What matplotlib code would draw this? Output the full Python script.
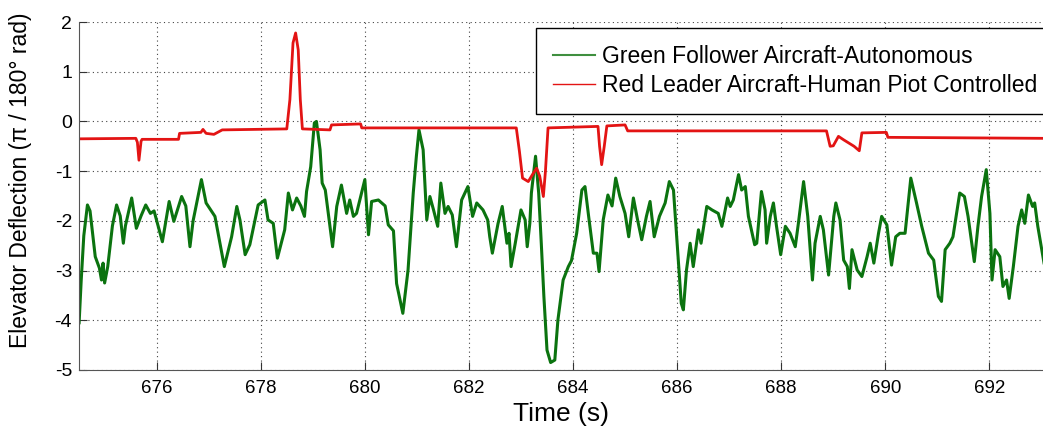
import matplotlib
matplotlib.use('Agg')
import matplotlib.pyplot as plt

# green follower (autonomous) elevator deflection
green_t = [674.51, 674.55, 674.60, 674.67, 674.72, 674.82, 674.90, 674.94, 674.97, 675.00,
           675.06, 675.15, 675.23, 675.30, 675.36, 675.40, 675.52, 675.61, 675.70, 675.79,
           675.88, 675.95, 676.11, 676.24, 676.33, 676.48, 676.56, 676.64, 676.70, 676.86,
           676.95, 677.12, 677.30, 677.44, 677.54, 677.60, 677.70, 677.79, 677.95, 678.08,
           678.14, 678.24, 678.32, 678.46, 678.53, 678.61, 678.69, 678.77, 678.84, 678.88,
           678.96, 679.03, 679.07, 679.14, 679.18, 679.24, 679.38, 679.46, 679.55, 679.65,
           679.71, 679.78, 679.84, 680.00, 680.07, 680.13, 680.26, 680.39, 680.45, 680.55,
           680.61, 680.73, 680.83, 680.93, 680.99, 681.04, 681.12, 681.19, 681.25, 681.32,
           681.40, 681.46, 681.54, 681.60, 681.68, 681.76, 681.86, 681.98, 682.07, 682.15,
           682.27, 682.36, 682.40, 682.45, 682.56, 682.64, 682.73, 682.77, 682.81, 682.89,
           683.00, 683.08, 683.12, 683.17, 683.20, 683.28, 683.34, 683.39, 683.44, 683.50,
           683.57, 683.65, 683.71, 683.81, 683.91, 683.97, 684.07, 684.17, 684.23, 684.30,
           684.39, 684.46, 684.50, 684.58, 684.67, 684.75, 684.82, 684.90, 685.00, 685.07,
           685.16, 685.24, 685.32, 685.41, 685.48, 685.56, 685.66, 685.77, 685.85, 685.93,
           686.00, 686.08, 686.12, 686.18, 686.25, 686.31, 686.41, 686.46, 686.57, 686.67,
           686.79, 686.86, 686.97, 687.02, 687.08, 687.18, 687.24, 687.31, 687.37, 687.49,
           687.53, 687.62, 687.69, 687.72, 687.79, 687.85, 687.91, 687.99, 688.08, 688.17,
           688.27, 688.33, 688.43, 688.51, 688.60, 688.65, 688.75, 688.81, 688.91, 689.01,
           689.05, 689.13, 689.20, 689.27, 689.31, 689.36, 689.46, 689.55, 689.65, 689.71,
           689.78, 689.87, 689.93, 690.03, 690.12, 690.20, 690.28, 690.38, 690.49, 690.60,
           690.70, 690.83, 690.93, 691.02, 691.08, 691.15, 691.24, 691.30, 691.43, 691.52,
           691.59, 691.71, 691.78, 691.85, 691.94, 692.01, 692.05, 692.11, 692.20, 692.26,
           692.33, 692.38, 692.46, 692.55, 692.62, 692.68, 692.75, 692.83, 692.87, 692.93,
           693.05]
green_v = [-4.05, -3.20, -2.30, -1.68, -1.80, -2.72, -2.95, -3.19, -2.85, -3.25,
           -2.92, -2.10, -1.68, -1.90, -2.45, -2.10, -1.54, -2.15, -1.90, -1.68,
           -1.85, -1.80, -2.42, -1.61, -2.01, -1.51, -1.70, -2.52, -2.00, -1.17,
           -1.64, -1.91, -2.92, -2.32, -1.71, -1.98, -2.68, -2.48, -1.68, -1.58,
           -1.98, -2.05, -2.75, -2.18, -1.44, -1.78, -1.54, -1.70, -1.91, -1.41,
           -0.91, -0.03, 0.00, -0.57, -1.24, -1.38, -2.52, -1.71, -1.28, -1.85,
           -1.58, -1.91, -1.85, -1.17, -2.28, -1.61, -1.58, -1.70, -2.08, -2.20,
           -3.26, -3.86, -2.99, -1.44, -0.70, -0.17, -0.57, -1.98, -1.51, -1.78,
           -2.11, -1.24, -1.85, -1.71, -1.88, -2.52, -1.58, -1.31, -1.91, -1.64,
           -1.78, -1.98, -2.32, -2.65, -2.05, -1.71, -2.45, -2.25, -2.92, -2.45,
           -1.78, -1.98, -2.52, -2.05, -1.44, -0.70, -1.44, -2.45, -3.52, -4.60,
           -4.85, -4.80, -3.99, -3.19, -2.92, -2.80, -2.25, -1.38, -1.31, -1.91,
           -2.65, -2.65, -3.02, -1.98, -1.48, -1.70, -1.14, -1.51, -1.85, -2.32,
           -1.54, -1.98, -2.38, -1.91, -1.61, -2.32, -1.91, -1.64, -1.21, -1.38,
           -2.45, -3.66, -3.79, -2.99, -2.45, -2.92, -2.18, -2.45, -1.71, -1.78,
           -1.85, -2.11, -1.54, -1.71, -1.58, -1.07, -1.38, -1.31, -1.91, -2.48,
           -2.45, -1.41, -1.78, -2.45, -1.91, -1.64, -2.11, -2.68, -2.11, -2.25,
           -2.52, -2.05, -1.21, -1.91, -3.19, -2.45, -1.91, -2.18, -3.09, -1.91,
           -1.64, -1.98, -2.79, -2.92, -3.36, -2.58, -2.99, -3.12, -2.72, -2.45,
           -2.85, -2.25, -1.91, -2.08, -2.89, -2.32, -2.25, -2.25, -1.14, -1.64,
           -2.11, -2.65, -2.79, -3.52, -3.62, -2.58, -2.45, -2.32, -1.44, -1.51,
           -1.91, -2.82, -2.11, -1.51, -0.97, -1.85, -3.19, -2.58, -2.72, -3.32,
           -3.19, -3.56, -2.92, -2.11, -1.78, -2.05, -1.48, -1.71, -1.64, -2.11,
           -2.85]

# red leader (human pilot) elevator deflection
red_t = [674.50, 675.60, 675.63, 675.66, 675.70, 675.72, 676.42, 676.44, 676.85, 676.89,
         676.95, 677.10, 677.26, 678.50, 678.56, 678.62, 678.67, 678.72, 678.76, 678.80,
         679.33, 679.36, 679.92, 679.94, 682.91, 682.97, 683.03, 683.14, 683.22, 683.30,
         683.36, 683.43, 683.47, 683.52, 684.48, 684.51, 684.55, 684.60, 684.65, 685.00,
         685.05, 688.87, 688.94, 689.00, 689.10, 689.20, 689.40, 689.50, 689.55, 690.02,
         690.05, 693.05]
red_v = [-0.35, -0.34, -0.42, -0.78, -0.40, -0.36, -0.36, -0.24, -0.22, -0.16,
         -0.24, -0.26, -0.17, -0.15, 0.44, 1.58, 1.78, 1.44, 0.44, -0.15,
         -0.17, -0.07, -0.05, -0.13, -0.13, -0.60, -1.14, -1.21, -1.07, -0.94,
         -1.10, -1.51, -1.00, -0.13, -0.10, -0.50, -0.87, -0.50, -0.09, -0.07,
         -0.19, -0.19, -0.50, -0.49, -0.30, -0.37, -0.50, -0.59, -0.23, -0.22,
         -0.32, -0.34]

x_ticks = [676, 678, 680, 682, 684, 686, 688, 690, 692]
y_ticks = [-5, -4, -3, -2, -1, 0, 1, 2]

plt.rcParams['font.family'] = ['Liberation Sans', 'DejaVu Sans']
plt.rcParams['axes.unicode_minus'] = False

fig = plt.figure(figsize=(10.43, 4.36), dpi=100)
ax = fig.add_axes([0.0757, 0.1514, 0.9243, 0.7981])

ax.plot(green_t, green_v, color='#0b730f', lw=2.2, label='Green Follower Aircraft-Autonomous')
ax.plot(red_t, red_v, color='#e31414', lw=2.0, label='Red Leader Aircraft-Human Piot Controlled')

ax.set_xlim(674.507, 693.03)
ax.set_ylim(-5, 2)
ax.set_xticks(x_ticks)
ax.set_yticks(y_ticks)
ax.grid(True, linestyle=(0, (1, 3)), color='#444444', lw=0.8)

for s in ['top', 'right']:
    ax.spines[s].set_visible(False)
ax.spines['left'].set_color('#555555')
ax.spines['bottom'].set_color('#555555')
ax.tick_params(direction='in', length=6, color='#333333')
ax.tick_params(axis='y', labelsize=14, pad=5)
ax.tick_params(axis='x', labelsize=13.5, pad=7)

ax.set_xlabel('Time (s)', fontsize=19, labelpad=4)
ax.set_ylabel('Elevator Deflection (\u03c0 / 180\u00b0 rad)', fontsize=16.5)
ax.yaxis.set_label_coords(-0.049, 0.546)

# legend box runs past the right edge, as in the original figure
leg = ax.legend(loc='upper left', bbox_to_anchor=(0.474, 0.983), fontsize=16.5,
                fancybox=False, framealpha=1, edgecolor='black', handlelength=1.85,
                handletextpad=0.3, borderpad=0.75, labelspacing=0.25, borderaxespad=0)
leg.get_frame().set_linewidth(1.0)
leg.get_lines()[0].set_linewidth(1.5)
leg.get_lines()[0].set_color('#3f8f3f')
leg.get_lines()[1].set_linewidth(1.0)

plt.savefig('out.png', dpi=100)
